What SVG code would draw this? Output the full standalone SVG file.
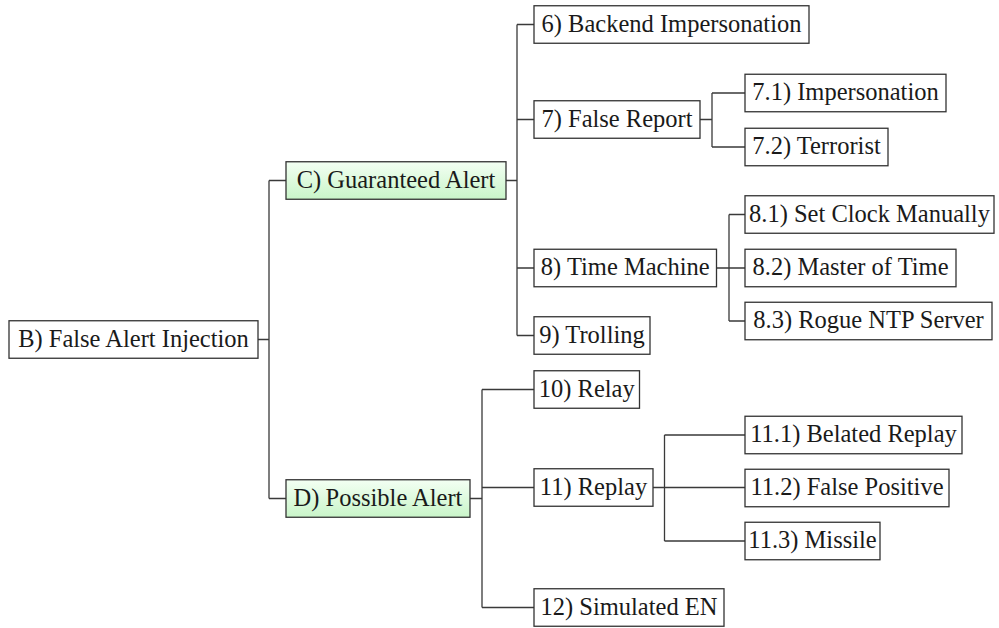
<svg xmlns="http://www.w3.org/2000/svg" width="999" height="628" viewBox="0 0 999 628">
  <style>
    .box { fill: #ffffff; stroke: #333333; stroke-width: 1.3; }
    .hl { fill: url(#greenFill); stroke: #333333; stroke-width: 1.3; }
    .wire { fill: none; stroke: #3a3a3a; stroke-width: 1.3; }
  </style>
  <defs>
    <linearGradient id="greenFill" x1="0" y1="0" x2="0" y2="1">
      <stop offset="0" stop-color="#f3fff3"/>
      <stop offset="1" stop-color="#c9f5c9"/>
    </linearGradient>
  </defs>
  <rect width="999" height="628" fill="#ffffff"/>

  <!-- tree connectors -->
  <g id="connectors">
    <!-- B to C / D -->
    <path class="wire" d="M258 339.5 H269 M269 180.5 V498.5 M269 180.5 H286 M269 498.5 H286"/>
    <!-- C to 6..9 -->
    <path class="wire" d="M506 180.5 H517 M517 24.5 V335.5 M517 24.5 H534 M517 119.5 H534 M517 268 H534 M517 335.5 H534"/>
    <!-- 7 to 7.1 / 7.2 -->
    <path class="wire" d="M700 119.5 H712 M712 93 V147 M712 93 H745 M712 147 H745"/>
    <!-- 8 to 8.1..8.3 -->
    <path class="wire" d="M716.5 268 H729 M729 214.5 V321 M729 214.5 H745 M729 268 H745 M729 321 H745"/>
    <!-- D to 10..12 -->
    <path class="wire" d="M470 498.5 H482 M482 389.5 V607.5 M482 389.5 H534 M482 487.5 H534 M482 607.5 H534"/>
    <!-- 11 to 11.1..11.3 -->
    <path class="wire" d="M653 487.5 H664.5 M664.5 435 V541 M664.5 435 H745 M664.5 487.5 H745 M664.5 541 H745"/>
  </g>

  <!-- node labels share one serif face -->
  <g font-family="Liberation Serif, serif" font-size="24.5" fill="#1a1a1a" text-anchor="middle">
  <g id="nodeB">
    <rect class="box" x="9" y="320.75" width="249" height="37.5"/>
    <text x="133.5" y="346.5">B) False Alert Injection</text>
  </g>
  <g id="nodeC">
    <rect class="hl" x="286" y="161.75" width="220" height="37.5"/>
    <text x="396" y="187.5">C) Guaranteed Alert</text>
  </g>
  <g id="nodeD">
    <rect class="hl" x="286" y="479.75" width="184" height="37.5"/>
    <text x="378" y="505.5">D) Possible Alert</text>
  </g>

  <g id="node6">
    <rect class="box" x="534" y="5.75" width="275" height="37.5"/>
    <text x="671.5" y="31.5">6) Backend Impersonation</text>
  </g>
  <g id="node7">
    <rect class="box" x="534" y="100.75" width="166" height="37.5"/>
    <text x="617" y="126.5">7) False Report</text>
  </g>
  <g id="node7_1">
    <rect class="box" x="745" y="74.25" width="201" height="37.5"/>
    <text x="845.5" y="100">7.1) Impersonation</text>
  </g>
  <g id="node7_2">
    <rect class="box" x="745" y="128.25" width="143" height="37.5"/>
    <text x="816.5" y="154">7.2) Terrorist</text>
  </g>
  <g id="node8">
    <rect class="box" x="534" y="249.25" width="182.5" height="37.5"/>
    <text x="625.25" y="275">8) Time Machine</text>
  </g>
  <g id="node8_1">
    <rect class="box" x="745" y="195.75" width="249" height="37.5"/>
    <text x="869.5" y="221.5">8.1) Set Clock Manually</text>
  </g>
  <g id="node8_2">
    <rect class="box" x="745" y="249.25" width="211" height="37.5"/>
    <text x="850.5" y="275">8.2) Master of Time</text>
  </g>
  <g id="node8_3">
    <rect class="box" x="745" y="302.25" width="247" height="37.5"/>
    <text x="868.5" y="328">8.3) Rogue NTP Server</text>
  </g>
  <g id="node9">
    <rect class="box" x="534" y="316.75" width="116" height="37.5"/>
    <text x="592" y="342.5">9) Trolling</text>
  </g>

  <g id="node10">
    <rect class="box" x="534" y="370.75" width="105.5" height="37.5"/>
    <text x="586.75" y="396.5">10) Relay</text>
  </g>
  <g id="node11">
    <rect class="box" x="534" y="468.75" width="119" height="37.5"/>
    <text x="593.5" y="494.5">11) Replay</text>
  </g>
  <g id="node11_1">
    <rect class="box" x="745" y="416.25" width="217" height="37.5"/>
    <text x="853.5" y="442">11.1) Belated Replay</text>
  </g>
  <g id="node11_2">
    <rect class="box" x="745" y="469.25" width="204" height="37.5"/>
    <text x="847" y="495">11.2) False Positive</text>
  </g>
  <g id="node11_3">
    <rect class="box" x="745" y="522.25" width="135" height="37.5"/>
    <text x="812.5" y="548">11.3) Missile</text>
  </g>
  <g id="node12">
    <rect class="box" x="534" y="588.75" width="190" height="37.5"/>
    <text x="629" y="614.5">12) Simulated EN</text>
  </g>
  </g>
</svg>
